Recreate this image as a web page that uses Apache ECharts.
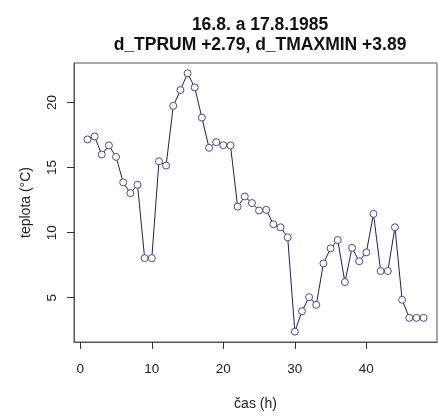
<!DOCTYPE html>
<html>
<head>
<meta charset="utf-8">
<script src="https://cdn.jsdelivr.net/npm/echarts@6/dist/echarts.min.js"></script>
<style>
  html, body { margin: 0; padding: 0; background: #fff; }
  #chart { width: 438px; height: 417px; }
</style>
</head>
<body>
<div id="chart"></div>
<script>
// Hourly temperature, 16.8.–17.8.1985
const hours = [1,2,3,4,5,6,7,8,9,10,11,12,13,14,15,16,17,18,19,20,21,22,23,24,
               25,26,27,28,29,30,31,32,33,34,35,36,37,38,39,40,41,42,43,44,45,46,47,48];
const temps = [17.16,17.39,16.0,16.7,15.82,13.86,13.04,13.68,8.04,8.04,15.48,15.15,
               19.74,20.95,22.24,21.16,18.84,16.52,16.95,16.72,16.7,12.0,12.78,12.27,
               11.7,11.75,10.64,10.41,9.64,2.39,3.96,5.04,4.45,7.63,8.79,9.43,
               6.2,8.83,7.8,8.48,11.44,7.05,7.05,10.41,4.84,3.45,3.45,3.45];
const xTicks = [0, 10, 20, 30, 40];
const yTicks = [5, 10, 15, 20];
const titleLines = ['16.8. a 17.8.1985', 'd_TPRUM +2.79, d_TMAXMIN +3.89'];
const xName = 'čas (h)';
const yName = 'teplota (°C)';

// axis limits padded by 4% of the data range on each side
function padded(arr) {
  const lo = Math.min(...arr), hi = Math.max(...arr);
  const d = (hi - lo) * 0.04;
  return [lo - d, hi + d];
}
const [xMin, xMax] = padded(hours);
const [yMin, yMax] = padded(temps);

const font = 'Liberation Sans, Arial, sans-serif';
const axisColor = '#555';
const textColor = '#222';

const chart = echarts.init(document.getElementById('chart'), null, { renderer: 'canvas' });
chart.setOption({
  animation: false,
  backgroundColor: '#fff',
  title: {
    text: titleLines.join('\n'),
    left: 255, top: 10, textAlign: 'center',
    textStyle: { fontFamily: font, fontSize: 17.5, fontWeight: 'bold', color: '#111', lineHeight: 20 }
  },
  grid: {
    left: 74, right: 1, top: 63, bottom: 75,
    show: true, borderColor: axisColor, borderWidth: 1, backgroundColor: 'transparent'
  },
  xAxis: {
    type: 'value', min: xMin, max: xMax,
    name: xName, nameLocation: 'middle', nameGap: 55,
    nameTextStyle: { fontFamily: font, fontSize: 14, color: textColor },
    axisLine: { show: true, onZero: false, lineStyle: { color: axisColor } },
    axisTick: { show: true, inside: false, length: 7, customValues: xTicks, lineStyle: { color: '#333' } },
    axisLabel: { customValues: xTicks, margin: 20, fontFamily: font, fontSize: 13.5, color: textColor },
    splitLine: { show: false }
  },
  yAxis: {
    type: 'value', min: yMin, max: yMax,
    name: yName, nameLocation: 'middle', nameGap: 41, nameRotate: 90,
    nameTextStyle: { fontFamily: font, fontSize: 14, color: textColor },
    axisLine: { show: true, onZero: false, lineStyle: { color: axisColor } },
    axisTick: { show: true, inside: false, length: 7, customValues: yTicks, lineStyle: { color: '#333' } },
    axisLabel: { customValues: yTicks, rotate: 90, margin: 22, fontFamily: font, fontSize: 13.5, color: textColor,
                 verticalAlign: 'middle', align: 'center' },
    splitLine: { show: false }
  },
  series: [{
    type: 'line',
    data: hours.map((h, i) => [h, temps[i]]),
    symbol: 'circle', symbolSize: 7,
    lineStyle: { color: '#1e1e66', width: 1 },
    itemStyle: { color: '#fff', borderColor: '#4a4a8c', borderWidth: 1 },
    emphasis: { disabled: true }
  }]
});
</script>
</body>
</html>
